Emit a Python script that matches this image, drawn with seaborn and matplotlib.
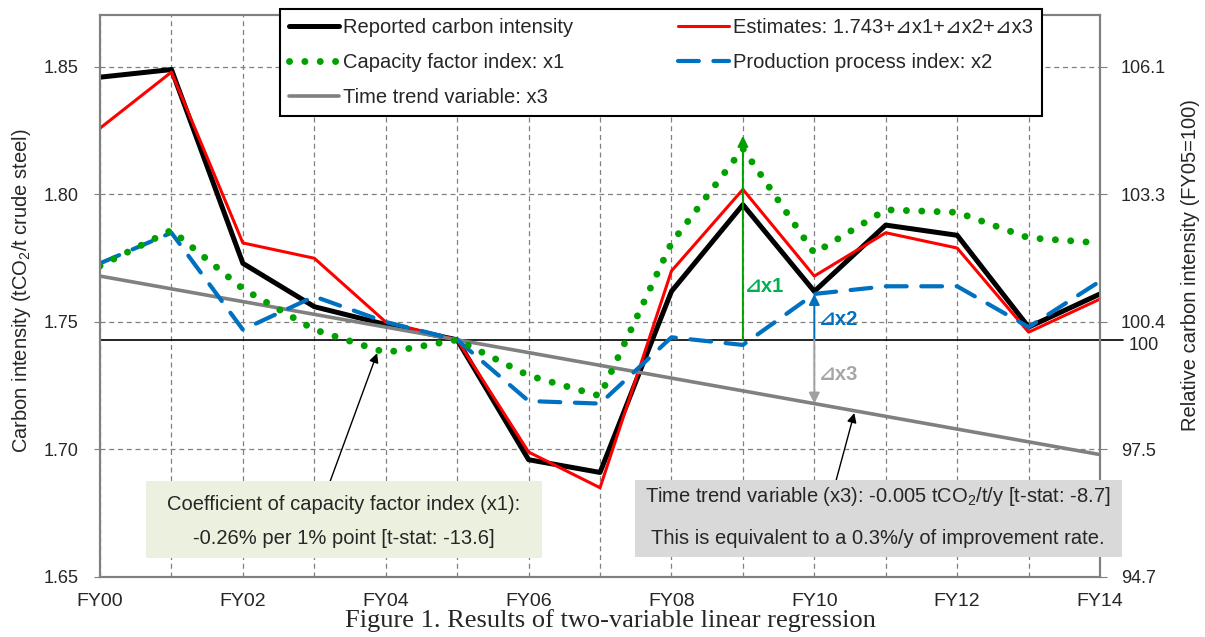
import pandas as pd
import seaborn as sns
import matplotlib.pyplot as plt
from matplotlib.patches import Rectangle
from matplotlib.transforms import blended_transform_factory

years = ["FY00", "FY01", "FY02", "FY03", "FY04", "FY05", "FY06", "FY07",
         "FY08", "FY09", "FY10", "FY11", "FY12", "FY13", "FY14"]
reported = [1.846, 1.849, 1.773, 1.756, 1.749, 1.743, 1.696, 1.691,
            1.762, 1.796, 1.762, 1.788, 1.784, 1.748, 1.761]
estimates = [1.826, 1.848, 1.781, 1.775, 1.750, 1.743, 1.699, 1.685,
             1.770, 1.802, 1.768, 1.785, 1.779, 1.746, 1.759]
capacity_x1 = [1.772, 1.786, 1.763, 1.747, 1.738, 1.743, 1.729, 1.721,
               1.781, 1.818, 1.777, 1.794, 1.793, 1.783, 1.781]
process_x2 = [1.773, 1.785, 1.747, 1.760, 1.750, 1.743, 1.719, 1.718,
              1.744, 1.741, 1.761, 1.764, 1.764, 1.748, 1.766]
trend_x3 = [1.768, 1.763, 1.758, 1.753, 1.748, 1.743, 1.738, 1.733,
            1.728, 1.723, 1.718, 1.713, 1.708, 1.703, 1.698]
base = 1.743
left_ticks = [1.65, 1.70, 1.75, 1.80, 1.85]
right_labels = ["94.7", "97.5", "100.4", "103.3", "106.1"]

df = pd.DataFrame({"t": range(len(years)), "reported": reported,
                   "estimates": estimates, "x1": capacity_x1,
                   "x2": process_x2, "x3": trend_x3})

sns.set_style("white")
plt.rcParams["font.family"] = ["Liberation Sans", "DejaVu Sans"]
plt.rcParams["mathtext.fontset"] = "custom"
plt.rcParams["mathtext.rm"] = "Liberation Sans"
plt.rcParams["mathtext.it"] = "Liberation Sans:italic"

grey = "#808080"
green = "#00A000"
blue = "#0070C0"
fs = 14.5

fig = plt.figure(figsize=(12.05, 6.37), dpi=100)
ax = fig.add_axes([0.083, 0.0942, 0.8299, 0.8823])

# base line at 1.743 (=100), runs past the right spine like a tick
tr = blended_transform_factory(ax.transAxes, ax.transData)
ax.plot([0, 1.023], [base, base], color="black", lw=1.2, transform=tr,
        clip_on=False, zorder=2)

sns.lineplot(data=df, x="t", y="reported", ax=ax, color="black", lw=3.6,
             label="Reported carbon intensity", zorder=3)
sns.lineplot(data=df, x="t", y="estimates", ax=ax, color="red", lw=2.2,
             label="Estimates: 1.743+⊿x1+⊿x2+⊿x3", zorder=4)
sns.lineplot(data=df, x="t", y="x3", ax=ax, color=grey, lw=2.6,
             label="Time trend variable: x3", zorder=5)
sns.lineplot(data=df, x="t", y="x2", ax=ax, color=blue, lw=3,
             linestyle=(0, (5, 3.5)), dash_capstyle="round",
             label="Production process index: x2", zorder=6)
sns.lineplot(data=df, x="t", y="x1", ax=ax, color=green, lw=5,
             linestyle=(0, (0.01, 2.2)), dash_capstyle="round",
             label="Capacity factor index: x1", zorder=7)

ax.set_xlim(0, 14)
ax.set_ylim(1.65, 1.8704)
ax.set_xticks(range(len(years)))
ax.set_xticklabels([y if i % 2 == 0 else "" for i, y in enumerate(years)])
ax.set_yticks(left_ticks)
ax.set_yticklabels([f"{v:.2f}" for v in left_ticks])
ax.set_xlabel("")
ax.set_ylabel("")
ax.grid(True, color=grey, lw=0.9, linestyle=(0, (4, 3)))
ax.tick_params(axis="x", labelsize=14, length=5, color=grey, pad=6.5)
ax.tick_params(axis="y", labelsize=13, length=4.3, color=grey, pad=11)
for s in ax.spines.values():
    s.set_color(grey)
    s.set_linewidth(1.5)
fig.text(22 / 1205, 1 - 291 / 637, "Carbon intensity (tCO$_2$/t crude steel)",
         rotation=90, ha="center", va="center", fontsize=fs)

ax2 = ax.twinx()
ax2.set_ylim(ax.get_ylim())
ax2.set_yticks(left_ticks)
ax2.set_yticklabels(right_labels)
ax2.tick_params(labelsize=13, length=5, color=grey, pad=10)
for s in ax2.spines.values():
    s.set_color(grey)
    s.set_linewidth(1.5)
ax.annotate("100", xy=(1.029, base), xycoords=tr, xytext=(0, -4),
            textcoords="offset points", va="center", ha="left", fontsize=13,
            annotation_clip=False)
fig.text(1190 / 1205, 1 - 265 / 637, "Relative carbon intensity (FY05=100)",
         rotation=90, ha="center", va="center", fontsize=fs)

# delta arrows at FY09 / FY10
ax.annotate("", xy=(9, capacity_x1[9] + 0.005), xytext=(9, base),
            arrowprops=dict(arrowstyle="-|>", color=green, lw=1.4,
                            shrinkA=0, shrinkB=0, mutation_scale=16), zorder=8)
ax.annotate("", xy=(10, process_x2[10]), xytext=(10, base),
            arrowprops=dict(arrowstyle="-|>", color=blue, lw=1.4,
                            shrinkA=0, shrinkB=0, mutation_scale=16), zorder=8)
ax.annotate("", xy=(10, trend_x3[10]), xytext=(10, base),
            arrowprops=dict(arrowstyle="-|>", color="#A0A0A0", lw=1.4,
                            shrinkA=0, shrinkB=0, mutation_scale=16), zorder=8)
ax.text(9.03, 1.764, "⊿x1", color="#00B050", fontsize=fs, fontweight="bold",
        va="center", zorder=9)
ax.text(10.07, 1.751, "⊿x2", color=blue, fontsize=fs, fontweight="bold",
        va="center", zorder=9)
ax.text(10.07, 1.7296, "⊿x3", color="#A6A6A6", fontsize=fs, fontweight="bold",
        va="center", zorder=9)

# callout arrows from the boxes
ax.annotate("", xy=(3.88, 1.7378), xytext=(3.22, 1.6874), annotation_clip=False,
            arrowprops=dict(arrowstyle="-|>", color="black", lw=1,
                            shrinkA=0, shrinkB=0, mutation_scale=14))
ax.annotate("", xy=(10.56, 1.7143), xytext=(10.3, 1.6874), annotation_clip=False,
            arrowprops=dict(arrowstyle="-|>", color="black", lw=1,
                            shrinkA=0, shrinkB=0, mutation_scale=14))

# text boxes
fig.patches.append(Rectangle((146 / 1205, 1 - 558 / 637), 396 / 1205, 77 / 637,
                             transform=fig.transFigure, facecolor="#EBF1DE",
                             edgecolor="none", zorder=1))
fig.patches.append(Rectangle((635 / 1205, 1 - 557 / 637), 487 / 1205, 77 / 637,
                             transform=fig.transFigure, facecolor="#D9D9D9",
                             edgecolor="none", zorder=1))
fig.text(344 / 1205, 1 - 504 / 637, "Coefficient of capacity factor index (x1):",
         ha="center", va="center", fontsize=fs, zorder=3)
fig.text(344 / 1205, 1 - 538 / 637, "-0.26% per 1% point [t-stat: -13.6]",
         ha="center", va="center", fontsize=fs, zorder=3)
fig.text(878 / 1205, 1 - 496 / 637,
         "Time trend variable (x3): -0.005 tCO$_2$/t/y [t-stat: -8.7]",
         ha="center", va="center", fontsize=fs, zorder=3)
fig.text(878 / 1205, 1 - 538 / 637,
         "This is equivalent to a 0.3%/y of improvement rate.",
         ha="center", va="center", fontsize=fs, zorder=3)

# legend
handles, labels = ax.get_legend_handles_labels()
if ax.get_legend() is not None:
    ax.get_legend().remove()
order = ["Reported carbon intensity", "Capacity factor index: x1",
         "Time trend variable: x3", "Estimates: 1.743+⊿x1+⊿x2+⊿x3",
         "Production process index: x2"]
hmap = dict(zip(labels, handles))
leg = fig.legend([hmap[k] for k in order], order, loc="upper left",
                 bbox_to_anchor=(280 / 1205, 1 - 9 / 637), ncol=2,
                 fontsize=fs, frameon=True, fancybox=False, framealpha=1,
                 edgecolor="black", handlelength=2.5, handletextpad=0.2,
                 columnspacing=5.2, labelspacing=0.8, borderpad=0.45,
                 borderaxespad=0)
leg.get_frame().set_linewidth(1.5)

fig.text(610 / 1205, 1 - 621 / 637,
         "Figure 1. Results of two-variable linear regression",
         ha="center", va="center", fontsize=19, family="Liberation Serif")

fig.savefig("out.png", dpi=100)
